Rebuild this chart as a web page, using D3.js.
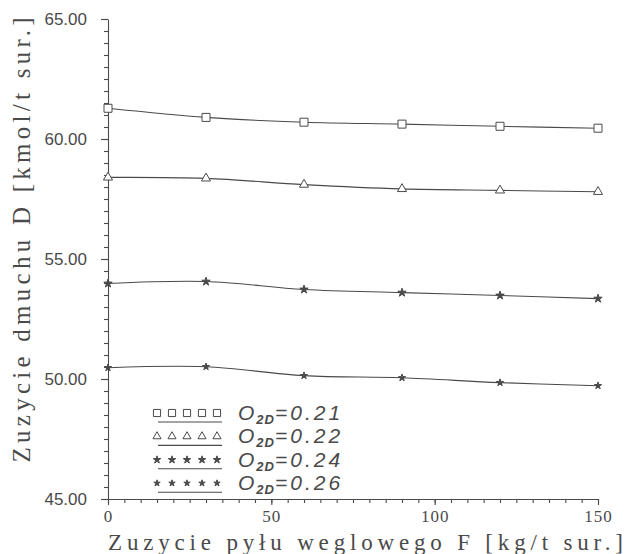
<!DOCTYPE html>
<html>
<head>
<meta charset="utf-8">
<script src="https://cdn.jsdelivr.net/npm/d3@7"></script>
<style>
  body { margin: 0; background: #fff; }
</style>
</head>
<body>
<div id="vis"></div>
<script>
// values
let fuel = [0, 30, 60, 90, 120, 150];
let blast021 = [61.28, 60.9, 60.7, 60.62, 60.53, 60.45];
let blast022 = [58.4, 58.36, 58.1, 57.92, 57.86, 57.8];
let blast024 = [53.98, 54.06, 53.73, 53.6, 53.48, 53.35];
let blast026 = [50.47, 50.51, 50.14, 50.05, 49.85, 49.72];
let oxygen = ['0.21', '0.22', '0.24', '0.26'];
let xTicks = [0, 50, 100, 150];
let yTicks = [45, 50, 55, 60, 65];

let margin = {
    top: 19,
    left: 108,
    right: 28,
    bottom: 55
  },
  width = 626 - margin.left - margin.right,
  height = 554 - margin.top - margin.bottom;

let ink = '#4a4a4a';
let serif = 'Liberation Serif, Times New Roman, serif';

let svg = d3.select('#vis')
  .append('svg')
  .attr('width', 626)
  .attr('height', 554)
  .style('background-color', '#fff')

let g = svg.append('g')
  .attr('transform', 'translate(' + margin.left + ',' + margin.top + ')')

let x = d3.scaleLinear().domain([0, 150]).range([0, width])
let y = d3.scaleLinear().domain([45, 65]).range([height, 0])

// minor ticks every 0.5 on y and every 5 on x
let yMinor = d3.range(45, 65.01, 0.5)
let xMinor = d3.range(0, 150.01, 5)

g.append('g')
  .call(d3.axisLeft(y).tickValues(yMinor).tickSize(4).tickFormat(''))
  .call(a => a.select('.domain').remove())

g.append('g')
  .call(d3.axisBottom(x).tickValues(xMinor).tickSize(4).tickFormat(''))
  .attr('transform', 'translate(0,' + height + ')')
  .call(a => a.select('.domain').remove())

let yAxis = g.append('g')
  .call(d3.axisLeft(y).tickValues(yTicks).tickSize(7).tickSizeOuter(0).tickPadding(14).tickFormat(d3.format('.2f')))

yAxis.selectAll('text')
  .attr('font-family', 'Liberation Sans, Arial, sans-serif')
  .attr('font-size', 17)
  .attr('fill', ink)

let xAxis = g.append('g')
  .attr('transform', 'translate(0,' + height + ')')
  .call(d3.axisBottom(x).tickValues(xTicks).tickSize(6).tickSizeOuter(0).tickPadding(5))

xAxis.selectAll('text')
  .attr('font-family', serif)
  .attr('font-size', 17)
  .attr('letter-spacing', 1)
  .attr('fill', ink)

g.selectAll('.domain, .tick line')
  .attr('stroke', ink)
  .attr('stroke-width', 1.1)

// axis titles
svg.append('text')
  .attr('transform', 'translate(21,240) rotate(-90)')
  .attr('text-anchor', 'middle')
  .attr('dy', '0.35em')
  .attr('font-family', serif)
  .attr('font-size', 25)
  .attr('fill', ink)
  .attr('textLength', 445)
  .attr('lengthAdjust', 'spacing')
  .text('Zuzycie dmuchu D [kmol/t sur.]')

svg.append('text')
  .attr('x', margin.left)
  .attr('y', 550)
  .attr('font-family', serif)
  .attr('font-size', 23)
  .attr('fill', ink)
  .attr('textLength', 515)
  .attr('lengthAdjust', 'spacing')
  .text('Zuzycie pyłu weglowego F [kg/t sur.]')

// series
let series = [blast021, blast022, blast024, blast026]
let shapes = [d3.symbolSquare, d3.symbolTriangle, d3.symbolStar, d3.symbolStar]
let sizes = [64, 36, 22, 16]
let filled = [false, false, true, true]

let line = d3.line()
  .x((d, i) => x(fuel[i]))
  .y(d => y(d))
  .curve(d3.curveCatmullRom.alpha(0.5))

series.forEach(function(vals, s) {
  g.append('path')
    .datum(vals)
    .attr('d', line)
    .attr('fill', 'none')
    .attr('stroke', ink)
    .attr('stroke-width', 1.1)

  g.selectAll('.m' + s)
    .data(vals)
    .enter()
    .append('path')
    .attr('class', 'm' + s)
    .attr('transform', (d, i) => 'translate(' + x(fuel[i]) + ',' + y(d) + ')')
    .attr('d', d3.symbol().type(shapes[s]).size(sizes[s]))
    .attr('fill', filled[s] ? ink : '#fff')
    .attr('stroke', ink)
    .attr('stroke-width', 1)
})

// legend
let legend = svg.append('g')

oxygen.forEach(function(o, i) {
  let ry = 413 + i * 23.4
  let row = legend.append('g')

  row.selectAll('path')
    .data(d3.range(5))
    .enter()
    .append('path')
    .attr('transform', j => 'translate(' + (157 + j * 15) + ',' + ry + ')')
    .attr('d', d3.symbol().type(shapes[i]).size(sizes[i] * 0.8))
    .attr('fill', filled[i] ? ink : '#fff')
    .attr('stroke', ink)
    .attr('stroke-width', 1)

  row.append('line')
    .attr('x1', 158)
    .attr('x2', 222)
    .attr('y1', ry + 9)
    .attr('y2', ry + 9)
    .attr('stroke', ink)
    .attr('stroke-width', 1.1)

  let t = row.append('text')
    .attr('x', 238)
    .attr('y', ry + 7)
    .attr('font-family', 'Liberation Sans, Arial, sans-serif')
    .attr('font-style', 'italic')
    .attr('font-size', 21)
    .attr('fill', ink)

  t.append('tspan').text('O')
  t.append('tspan')
    .attr('font-size', 13)
    .attr('font-weight', 'bold')
    .attr('dx', 2)
    .attr('dy', 4)
    .attr('letter-spacing', 1)
    .text('2D')
  t.append('tspan')
    .attr('dy', -4)
    .attr('letter-spacing', 3)
    .text('=' + o)
})
</script>
</body>
</html>
